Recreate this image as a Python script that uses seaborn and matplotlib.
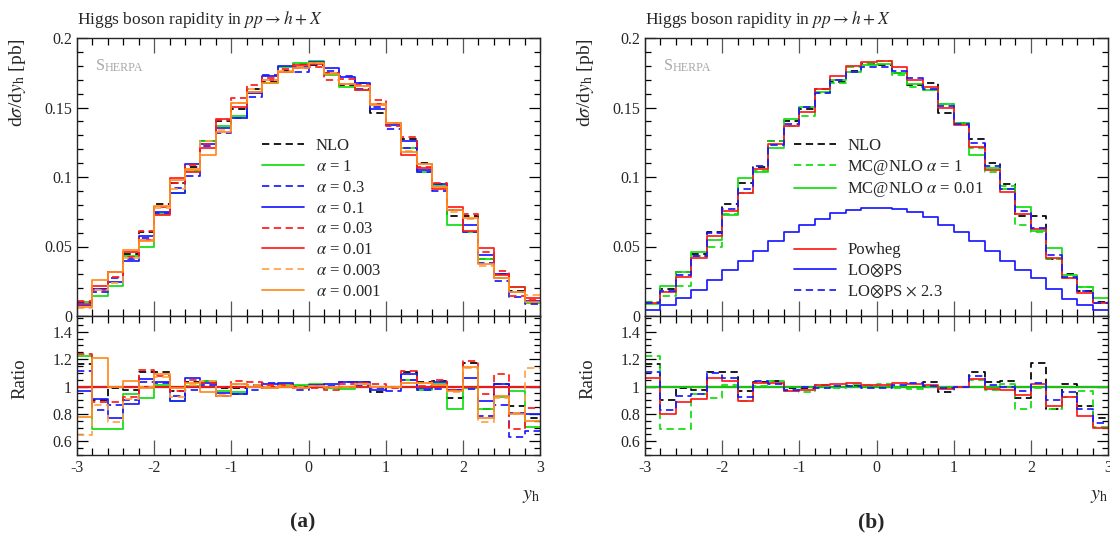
import numpy as np
import pandas as pd
import seaborn as sns
import matplotlib.pyplot as plt
from matplotlib.lines import Line2D
from matplotlib.ticker import FixedLocator, MultipleLocator

# bin edges of the rapidity histogram
bin_edges = np.round(np.arange(-3.0, 3.01, 0.2), 1)

# reference: MC@NLO alpha = 0.01, dsigma/dy [pb]
ref_vals = [0.0085, 0.0213, 0.0318, 0.0457, 0.0545, 0.0725, 0.0990, 0.1035, 0.1210, 0.1420,
            0.1505, 0.1615, 0.1695, 0.1755, 0.1805, 0.1810, 0.1750, 0.1670, 0.1625, 0.1525,
            0.1385, 0.1155, 0.1065, 0.0915, 0.0785, 0.0615, 0.0488, 0.0295, 0.0212, 0.0132]

# ratios to the reference
r_nlo = [1.167, 0.905, 0.988, 0.975, 1.108, 1.107, 0.966, 1.033, 1.041, 0.990,
         0.988, 1.012, 0.995, 1.006, 1.006, 0.998, 0.998, 0.995, 1.031, 0.957,
         1.000, 1.103, 1.031, 1.040, 0.914, 1.173, 0.838, 1.018, 0.856, 0.768]
r_a1 = [1.224, 0.690, 0.690, 0.943, 0.914, 1.008, 0.895, 1.005, 1.038, 0.964,
        0.958, 0.993, 0.990, 1.020, 1.010, 1.015, 0.992, 0.985, 1.000, 1.000,
        1.000, 1.045, 0.976, 1.022, 0.836, 0.988, 0.834, 0.926, 0.969, 0.702]
r_a03 = [1.113, 0.825, 0.862, 0.905, 1.036, 1.024, 0.929, 0.971, 1.012, 0.929,
         0.948, 0.976, 1.024, 1.000, 0.971, 1.000, 1.007, 1.036, 1.005, 0.988,
         0.969, 1.048, 0.971, 0.983, 0.971, 0.981, 0.786, 0.862, 0.631, 0.675]
r_a01 = [0.966, 0.912, 0.772, 0.873, 1.055, 1.036, 0.893, 1.060, 1.024, 0.952,
         0.948, 0.993, 1.019, 1.024, 0.993, 1.010, 1.019, 1.031, 1.031, 0.976,
         0.993, 1.088, 0.988, 1.036, 0.976, 1.064, 0.893, 1.019, 0.810, 0.798]
r_a003 = [1.235, 0.888, 0.888, 0.924, 1.120, 1.079, 0.969, 1.048, 1.024, 0.993,
          1.043, 1.031, 1.012, 1.012, 0.988, 0.988, 0.971, 1.019, 1.024, 1.019,
          0.986, 1.112, 1.005, 1.048, 0.976, 1.190, 0.945, 1.088, 0.690, 0.845]
r_a001 = [1.0] * 30
r_a0003 = [0.645, 0.867, 0.738, 0.910, 1.000, 1.070, 0.924, 1.012, 1.043, 0.940,
           1.019, 1.012, 1.000, 1.005, 0.993, 1.005, 1.000, 1.000, 1.019, 1.000,
           1.000, 1.029, 1.024, 1.012, 0.957, 1.138, 0.743, 0.917, 0.805, 1.138]
r_a0001 = [0.780, 1.207, 1.000, 1.040, 0.988, 1.095, 0.988, 1.024, 0.957, 0.933,
           1.019, 1.000, 0.988, 1.000, 0.988, 1.005, 0.995, 1.000, 1.019, 0.995,
           1.000, 1.024, 1.024, 1.012, 0.969, 1.143, 0.767, 0.933, 0.802, 0.750]
r_powheg = [1.060, 0.800, 0.890, 0.910, 1.060, 1.037, 0.896, 1.024, 1.024, 0.964,
            0.976, 1.012, 1.020, 1.024, 1.012, 1.012, 1.024, 1.017, 1.012, 0.983,
            0.993, 1.055, 0.983, 0.976, 0.935, 1.019, 0.855, 0.920, 0.783, 0.700]

# LO x PS, dsigma/dy [pb]
lo_ps = [0.0041, 0.0077, 0.0129, 0.0188, 0.0261, 0.0334, 0.0397, 0.0468, 0.0536, 0.0601,
         0.0654, 0.0697, 0.0738, 0.0764, 0.0779, 0.0779, 0.0767, 0.0745, 0.0710, 0.0656,
         0.0601, 0.0541, 0.0469, 0.0397, 0.0329, 0.0275, 0.0192, 0.0123, 0.0077, 0.0042]
lo_scale = 2.3

ref = np.array(ref_vals)

GREEN = '#11dd11'
BLUE = '#1a1aff'
RED = '#ff1a1a'
ORANGE = '#ff8a1f'
ORANGE_D = '#ffa347'

left_series = [
    ('NLO', ref * r_nlo, 'black', '--'),
    (r'$\alpha$ = 1', ref * r_a1, GREEN, '-'),
    (r'$\alpha$ = 0.3', ref * r_a03, BLUE, '--'),
    (r'$\alpha$ = 0.1', ref * r_a01, BLUE, '-'),
    (r'$\alpha$ = 0.03', ref * r_a003, RED, '--'),
    (r'$\alpha$ = 0.01', ref * r_a001, RED, '-'),
    (r'$\alpha$ = 0.003', ref * r_a0003, ORANGE_D, '--'),
    (r'$\alpha$ = 0.001', ref * r_a0001, ORANGE, '-'),
]
right_series = [
    ('NLO', ref * r_nlo, 'black', '--'),
    (r'MC@NLO $\alpha$ = 1', ref * r_a1, GREEN, '--'),
    (r'MC@NLO $\alpha$ = 0.01', ref * r_a001, GREEN, '-'),
    (None, None, None, None),
    (None, None, None, None),
    ('Powheg', ref * r_powheg, RED, '-'),
    (r'LO$\otimes$PS', np.array(lo_ps), BLUE, '-'),
    (r'LO$\otimes$PS $\times$ 2.3', np.array(lo_ps) * lo_scale, BLUE, '--'),
]

sns.set_style('ticks')
plt.rcParams['font.family'] = ['Liberation Serif', 'DejaVu Serif']
plt.rcParams['mathtext.fontset'] = 'stix'
plt.rcParams['axes.unicode_minus'] = False
plt.rcParams['lines.dashed_pattern'] = [4.2, 2.6]

W, H = 1110, 541
fig = plt.figure(figsize=(W / 100, H / 100), dpi=100)


def px_axes(x0, y0, x1, y1):
    return fig.add_axes([x0 / W, 1 - y1 / H, (x1 - x0) / W, (y1 - y0) / H])


def steps(ax, vals, color, ls, label=None):
    y = np.append(vals, vals[-1])
    df = pd.DataFrame({'x': bin_edges, 'y': y})
    sns.lineplot(data=df, x='x', y='y', ax=ax, color=color, linestyle=ls, lw=1.25,
                 drawstyle='steps-post', estimator=None, sort=False, label=label, legend=False)


def style_axes(ax, main):
    ax.set_xlim(-3, 3)
    ax.xaxis.set_major_locator(MultipleLocator(1))
    ax.xaxis.set_minor_locator(MultipleLocator(0.2))
    ax.tick_params(axis='both', which='both', direction='in', top=True, right=True,
                   width=0.9, color='black', labelsize=11.5)
    ax.tick_params(axis='x', which='major', length=11, color='#555555')
    ax.tick_params(axis='x', which='minor', length=5)
    ax.tick_params(axis='y', which='major', length=8)
    ax.tick_params(axis='y', which='minor', length=4.5)
    for s in ax.spines.values():
        s.set_linewidth(1.0)
    ax.set_xlabel('')
    ax.set_ylabel('')
    if main:
        ax.set_ylim(0, 0.2)
        ax.yaxis.set_major_locator(FixedLocator([0, 0.05, 0.1, 0.15, 0.2]))
        ax.set_yticklabels(['0', '0.05', '0.1', '0.15', '0.2'])
        ax.yaxis.set_minor_locator(MultipleLocator(0.01))
        ax.tick_params(axis='x', labelbottom=False)
    else:
        ax.set_ylim(0.5, 1.515)
        ax.yaxis.set_major_locator(FixedLocator([0.6, 0.8, 1.0, 1.2, 1.4]))
        ax.set_yticklabels(['0.6', '0.8', '1', '1.2', '1.4'])
        ax.yaxis.set_minor_locator(MultipleLocator(0.05))
        ax.set_xticks([-3, -2, -1, 0, 1, 2, 3])
        ax.set_xticklabels(['-3', '-2', '-1', '0', '1', '2', '3'])


def panel(x0, series, legend_x, caption, spacing):
    x1 = x0 + 463
    ax = px_axes(x0, 38, x1, 316)
    rx = px_axes(x0, 316, x1, 455)
    handles = []
    for label, vals, color, ls in series:
        if vals is None:
            handles.append(Line2D([], [], color='none', label=' '))
            continue
        steps(ax, vals, color, ls, label)
        handles.append(ax.lines[-1])
    rx.axhline(1, color='#5a1a1a', lw=1.6)
    for label, vals, color, ls in series:
        if vals is None:
            continue
        steps(rx, vals / ref, color, ls)
    style_axes(ax, True)
    style_axes(rx, False)

    ax.legend(handles=handles, loc='upper left', bbox_to_anchor=(legend_x, 0.64),
              frameon=False, fontsize=12, handlelength=2.5, handletextpad=0.7,
              labelspacing=spacing, borderpad=0, borderaxespad=0)

    ax.text(0, 1.03, r'Higgs boson rapidity in $pp \rightarrow h + X$',
            transform=ax.transAxes, fontsize=12.5, ha='left', va='bottom')
    t1 = ax.text(0.04, 0.885, 'S', transform=ax.transAxes, fontsize=11.5,
                 color='#a8a8a8', ha='left', va='baseline')
    ax.annotate('HERPA', xy=(1, 0), xycoords=t1, fontsize=8.7, color='#a8a8a8',
                ha='left', va='bottom')

    ax.set_ylabel(r'd$\sigma$/d$y_\mathrm{h}$ [pb]', fontsize=14, ha='right', y=1.0)
    ax.yaxis.set_label_coords(-0.105, 1.0)
    rx.set_ylabel('Ratio', fontsize=13.5)
    rx.yaxis.set_label_coords(-0.105, 0.55)
    rx.text(1.0, -0.22, r'$y_\mathrm{h}$', transform=rx.transAxes, fontsize=14.5,
            ha='right', va='top')
    fig.text((x0 + 226) / W, 1 - 522 / H, caption, fontsize=15.5, fontweight='bold',
             ha='center', va='center')


panel(77, left_series, 0.40, '(a)', 0.29)
panel(645, right_series, 0.322, '(b)', 0.22)

fig.savefig('out.png', dpi=100)
